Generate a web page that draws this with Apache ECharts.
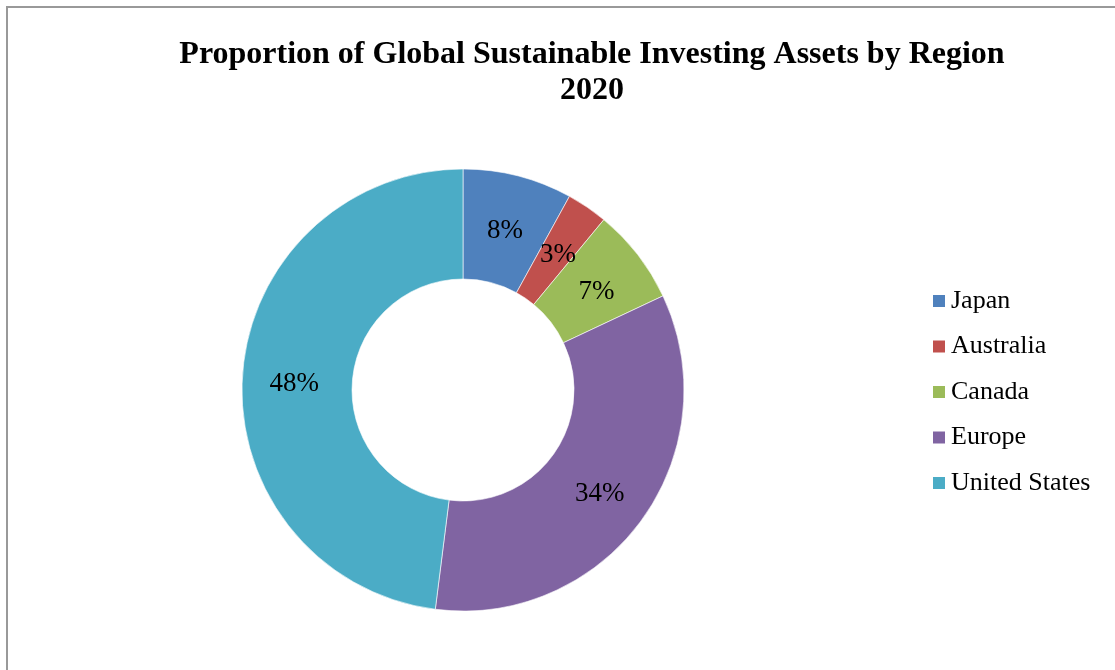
<!DOCTYPE html>
<html>
<head>
<meta charset="utf-8">
<script src="https://cdn.jsdelivr.net/npm/echarts@6/dist/echarts.min.js"></script>
<style>
html,body{margin:0;padding:0;background:#fff;}
#chart{width:1115px;height:670px;}
</style>
</head>
<body>
<div id="chart"></div>
<script>
const categories = ['Japan', 'Australia', 'Canada', 'Europe', 'United States'];
const values = [8, 3, 7, 34, 48];
const colors = ['#4F81BD', '#C0504D', '#9BBB59', '#8064A2', '#4BACC6'];
const titleLines = ['Proportion of Global Sustainable Investing Assets by Region', '2020'];

const serif = '"Liberation Serif", "Times New Roman", serif';
const chart = echarts.init(document.getElementById('chart'), null, {renderer: 'canvas'});
chart.setOption({
  backgroundColor: '#fff',
  animation: false,
  color: colors,
  title: {
    text: titleLines.join('\n'),
    left: 592,
    top: 37,
    textAlign: 'center',
    padding: 0,
    textStyle: {fontFamily: serif, fontWeight: 'bold', fontSize: 32, lineHeight: 36, color: '#000'}
  },
  legend: {
    orient: 'vertical',
    left: 931,
    top: 288,
    itemWidth: 14,
    itemHeight: 14,
    itemGap: 19.5,
    padding: 0,
    icon: 'rect',
    data: categories,
    textStyle: {fontFamily: serif, fontSize: 26, lineHeight: 26, color: '#000', padding: [0, 0, 0, 0]}
  },
  graphic: [{
    type: 'rect',
    shape: {x: 7, y: 7, width: 1200, height: 800},
    style: {fill: 'none', stroke: '#999', lineWidth: 2},
    silent: true
  }],
  series: [{
    type: 'pie',
    center: [463, 390],
    radius: [111, 221],
    startAngle: 90,
    clockwise: true,
    avoidLabelOverlap: false,
    itemStyle: {borderColor: '#fff', borderWidth: 0.6},
    label: {
      show: true,
      position: 'inside',
      offset: [0, 5],
      formatter: p => Math.round(p.percent) + '%',
      fontFamily: serif,
      fontSize: 27,
      color: '#000'
    },
    labelLine: {show: false},
    emphasis: {disabled: true},
    data: categories.map((c, i) => ({name: c, value: values[i]}))
  }]
});
</script>
</body>
</html>
